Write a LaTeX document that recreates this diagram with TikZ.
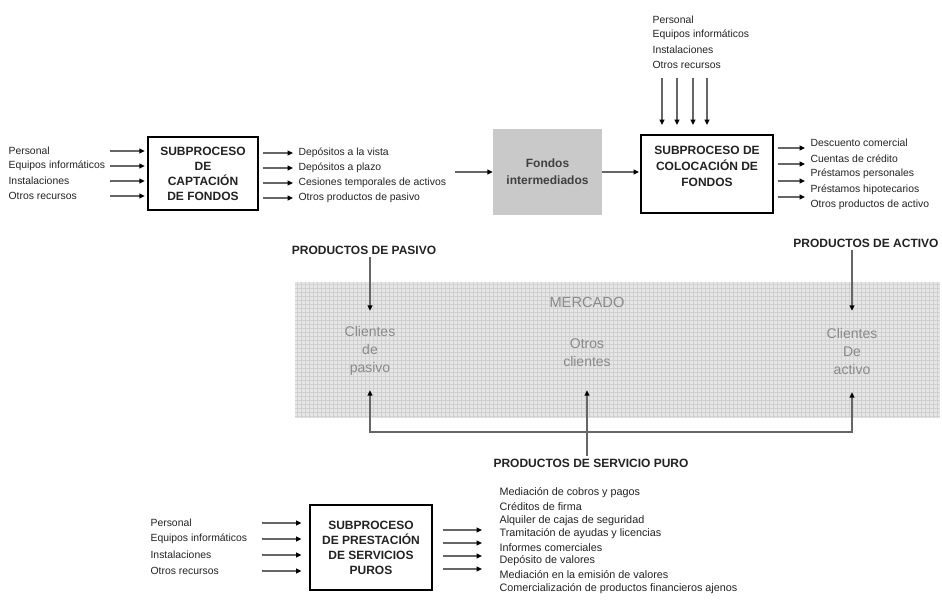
\documentclass[tikz,border=0pt]{standalone}
\usepackage{fontspec}
\setmainfont{Liberation Sans}
\usetikzlibrary{arrows.meta}

\definecolor{textogris}{HTML}{222222}
\definecolor{fondogris}{HTML}{C9C9C9}
\definecolor{mercadofondo}{HTML}{E6E6E6}
\definecolor{mercadolinea}{HTML}{D0D0D0}
\definecolor{clientegris}{HTML}{8A8A8A}

\tikzset{
  flecha/.style={draw=black!60, line width=1pt, -{Triangle[length=4pt,width=3.6pt,color=black]}},
  flechas/.style={draw=black!60, line width=1pt, {Triangle[length=4pt,width=3.6pt,color=black]}-{Triangle[length=4pt,width=3.6pt,color=black]}},
  caja/.style={draw=black, line width=0.9pt, align=center, inner sep=0pt, text=textogris, font=\bfseries\fontsize{9}{11.2}\selectfont},
  cajatexto/.style={align=center, inner sep=0pt, text=textogris, font=\bfseries\fontsize{9}{12}\selectfont},
  fondo/.style={fill=fondogris, align=center, inner sep=0pt, minimum width=81.75pt, minimum height=64.5pt, text=black!75, font=\bfseries\fontsize{9}{13}\selectfont},
  lista/.style={anchor=west, inner sep=1pt, text=textogris, font=\fontsize{7.8}{9}\selectfont},
  etiqueta/.style={inner sep=2pt, text=textogris, font=\bfseries\fontsize{9}{11}\selectfont},
  cliente/.style={align=center, inner sep=0pt, text=clientegris, font=\fontsize{10.5}{13.5}\selectfont},
  rejilla/.style={draw=mercadolinea, line width=0.3pt}
}

\begin{document}
\begin{tikzpicture}[x=0.75pt, y=-0.75pt]
  \useasboundingbox (0,0) rectangle (942,607);

  % Subproceso de captacion
  \node[caja, minimum width=82.5pt, minimum height=54.75pt] (capta) at (203,173.5) {SUBPROCESO\\DE\\CAPTACIÓN\\DE FONDOS};
  \foreach \y/\txt [count=\i] in {151/Personal, 166/Equipos informáticos, 181/Instalaciones, 196/Otros recursos}{
    \node[lista] (capin\i) at (7,\y) {\txt};
    \coordinate (capa\i) at (110,\y);
    \draw[flecha, shorten >=2pt] (capa\i) -- (capa\i -| capta.west);
  }
  \foreach \y/\txt [count=\i] in {153/Depósitos a la vista, 168/Depósitos a plazo, 183/Cesiones temporales de activos, 198/Otros productos de pasivo}{
    \node[lista] (dep\i) at (297,\y) {\txt};
    \draw[flecha, shorten <=3pt, shorten >=3pt] (capta.east |- dep\i) -- (dep\i.west);
  }

  % Fondos intermediados
  \node[fondo] (fondos) at (547.5,172) {Fondos\\intermediados};
  \coordinate (fin) at (455,172);
  \draw[flecha] (fin) -- (fondos.west);

  % Subproceso de colocacion
  \node[caja, minimum width=99pt, minimum height=58.5pt] (coloca) at (707,174) {};
  \node[cajatexto] (colocatxt) at (707,166) {SUBPROCESO DE\\COLOCACIÓN DE\\FONDOS};
  \draw[flecha, shorten >=1pt] (fondos.east) -- (fondos.east -| coloca.west);
  \foreach \y/\txt [count=\i] in {20/Personal, 35/Equipos informáticos, 50/Instalaciones, 65/Otros recursos}
    \node[lista] (colin\i) at (651,\y) {\txt};
  \foreach \x [count=\i] in {662,677,693,707}{
    \coordinate (cola\i) at (\x,78);
    \draw[flecha, shorten >=7pt] (cola\i) -- (cola\i |- coloca.north);
  }
  \foreach \y/\txt [count=\i] in {143/Descuento comercial, 158.5/Cuentas de crédito, 174/Préstamos personales, 189.5/Préstamos hipotecarios, 205/Otros productos de activo}
    \node[lista] (act\i) at (809,\y) {\txt};
  \foreach \y [count=\i] in {148,164,181,197}{
    \coordinate (colb\i) at (805,\y);
    \draw[flecha, shorten <=3pt] (coloca.east |- colb\i) -- (colb\i);
  }

  % Mercado
  \fill[mercadofondo] (295,282) rectangle (940,418);
  \foreach \x in {297,301,...,937} \draw[rejilla] (\x,282) -- (\x,418);
  \foreach \y in {284,288,...,416} \draw[rejilla] (295,\y) -- (940,\y);
  \node[cliente, font=\fontsize{11}{13}\selectfont] (mercado) at (587,302) {MERCADO};
  \node[cliente, minimum height=59.25pt] (pasivo) at (370,350.5) {Clientes\\de\\pasivo};
  \node[cliente, minimum height=55.5pt] (otros) at (587,353) {Otros\\clientes};
  \node[cliente, minimum height=60.75pt] (activo) at (852,351.5) {Clientes\\De\\activo};

  % Productos
  \node[etiqueta] (prodpas) at (364,250) {PRODUCTOS DE PASIVO};
  \node[etiqueta] (prodact) at (866,243) {PRODUCTOS DE ACTIVO};
  \node[etiqueta] (prodserv) at (591,463) {PRODUCTOS DE SERVICIO PURO};
  \draw[flecha] (prodpas.south -| pasivo.north) -- (pasivo.north);
  \draw[flecha] (prodact.south -| activo.north) -- (activo.north);
  \coordinate (base) at (587,432);
  \draw[flechas] (pasivo.south) |- (base) -| (activo.south);
  \draw[flecha] (prodserv.north -| otros.south) -- (otros.south);

  % Subproceso de prestacion de servicios puros
  \node[caja, minimum width=91.5pt, minimum height=63.75pt] (prest) at (371,547.5) {SUBPROCESO\\DE PRESTACIÓN\\DE SERVICIOS\\PUROS};
  \foreach \y/\txt [count=\i] in {523/Personal, 539/Equipos informáticos, 555/Instalaciones, 571/Otros recursos}{
    \node[lista] (prin\i) at (149,\y) {\txt};
    \coordinate (pra\i) at (262,\y);
    \draw[flecha, shorten >=6pt] (pra\i) -- (pra\i -| prest.west);
  }
  \foreach \y [count=\i] in {530,543,556,569}{
    \coordinate (prb\i) at (482,\y);
    \draw[flecha, shorten <=7.5pt] (prest.east |- prb\i) -- (prb\i);
  }
  \foreach \txt [count=\i] in {Mediación de cobros y pagos, Créditos de firma, Alquiler de cajas de seguridad, Tramitación de ayudas y licencias, Informes comerciales, Depósito de valores, Mediación en la emisión de valores, Comercialización de productos financieros ajenos}
    \node[lista, font=\fontsize{8.1}{9}\selectfont] (serv\i) at (498,{493+13.6*(\i-1)}) {\txt};
\end{tikzpicture}
\end{document}
